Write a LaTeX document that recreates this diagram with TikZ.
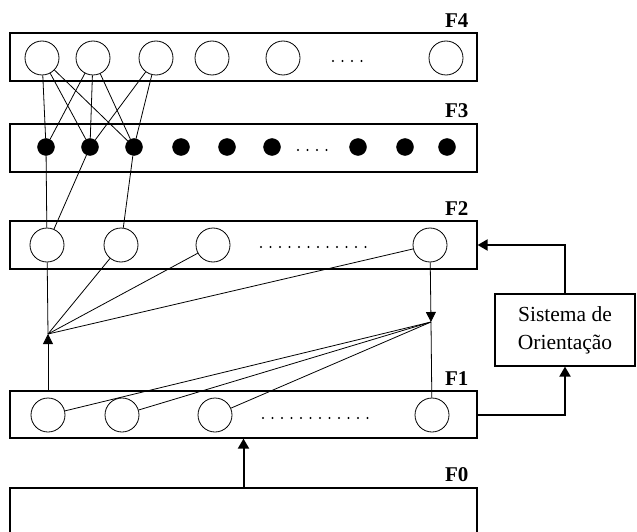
\documentclass[tikz,border=0pt]{standalone}
\usepackage{fontspec}
\setmainfont{Liberation Serif}
\usetikzlibrary{arrows.meta, positioning}

\begin{document}
\begin{tikzpicture}[x=1pt, y=-1pt,
  layer/.style={draw, line width=1.2pt, minimum width=467pt, minimum height=48pt, inner sep=0pt},
  unit/.style={draw, circle, line width=0.8pt, minimum size=34pt, inner sep=0pt},
  cell/.style={draw, fill, circle, minimum size=17pt, inner sep=0pt},
  flabel/.style={font=\bfseries\fontsize{21}{21}\selectfont, inner sep=0pt},
  sysbox/.style={draw, line width=1.2pt, minimum width=140pt, minimum height=72pt,
    align=center, font=\fontsize{21.5}{28}\selectfont},
  wire/.style={line width=0.8pt},
  tip/.style={-{Triangle[length=10pt, width=10pt]}},
  feed/.style={line width=2pt, -{Triangle[length=10pt, width=11pt]}},
  gap/.style={line width=2.2pt, line cap=round, dash pattern=on 0pt off 9.5pt}]
  \useasboundingbox (0,0) rectangle (637,532);
  % layers
  \node[layer] (f4) at (243.5,57) {};
  \node[layer] (f3) at (243.5,148) {};
  \node[layer] (f2) at (243.5,245) {};
  \node[layer, minimum height=47pt] (f1) at (243.5,414.5) {};
  \node[layer, minimum height=60pt] (f0) at (243.5,518) {};
  \node[flabel, above left=5pt and 9pt of f4.north east] {F4};
  \node[flabel, above left=5pt and 9pt of f3.north east] {F3};
  \node[flabel, above left=5pt and 9pt of f2.north east] {F2};
  \node[flabel, above left=5pt and 9pt of f1.north east] {F1};
  \node[flabel, above left=5pt and 9pt of f0.north east] {F0};
  \node[sysbox] (orient) at (565,330) {Sistema de\\Orientação};
  % F4 units
  \node[unit] (f4a) at (42,58) {};
  \node[unit] (f4b) at (93,58) {};
  \node[unit] (f4c) at (156,58) {};
  \node[unit] (f4d) at (212,58) {};
  \node[unit] (f4e) at (283,58) {};
  \node[unit] (f4f) at (446,58) {};
  \draw[gap] (333,61) -- (362,61);
  % F3 cells
  \node[cell] (f3a) at (46,147) {};
  \node[cell] (f3b) at (90,147) {};
  \node[cell] (f3c) at (134,147) {};
  \node[cell] (f3d) at (181,147) {};
  \node[cell] (f3e) at (227,147) {};
  \node[cell] (f3f) at (272,147) {};
  \node[cell] (f3g) at (358,147) {};
  \node[cell] (f3h) at (405,147) {};
  \node[cell] (f3i) at (447,147) {};
  \draw[gap] (298,150) -- (328,150);
  % F2 units
  \node[unit] (f2a) at (47,245) {};
  \node[unit] (f2b) at (121,245) {};
  \node[unit] (f2c) at (213,245) {};
  \node[unit] (f2d) at (430,245) {};
  \draw[gap] (261,247) -- (370,247);
  % F1 units
  \node[unit] (f1a) at (48,415) {};
  \node[unit] (f1b) at (122,415) {};
  \node[unit] (f1c) at (215,415) {};
  \node[unit] (f1d) at (432,415) {};
  \draw[gap] (263,418) -- (370,418);
  % junctions
  \coordinate (j1) at (48,334);
  \coordinate (j2) at (431,322);
  % F4 -- F3
  \draw[wire] (f4a) -- (f3a);
  \draw[wire] (f4a) -- (f3b);
  \draw[wire] (f4a) -- (f3c);
  \draw[wire] (f4b) -- (f3a);
  \draw[wire] (f4b) -- (f3b);
  \draw[wire] (f4b) -- (f3c);
  \draw[wire] (f4c) -- (f3b);
  \draw[wire] (f4c) -- (f3c);
  % F3 -- F2
  \draw[wire] (f3a) -- (f2a);
  \draw[wire] (f3b) -- (f2a);
  \draw[wire] (f3c) -- (f2b);
  % F2 / F1 links
  \draw[wire, tip] (j1 |- f1.north) -- (j1);
  \draw[wire] (j1) -- (f2a);
  \draw[wire] (j1) -- (f2b);
  \draw[wire] (j1) -- (f2c);
  \draw[wire] (j1) -- (f2d);
  \draw[wire, tip] (f2d) -- (j2);
  \draw[wire] (j2) -- (f1d);
  \draw[wire] (f1a) -- (j2);
  \draw[wire] (f1b) -- (j2);
  \draw[wire] (f1c) -- (j2);
  % input and orienting
  \draw[feed] (f0.north) -- (f1.south);
  \draw[feed] (f1.east) -| (orient.south);
  \draw[feed] (orient.north) |- (f2.east);
\end{tikzpicture}
\end{document}
